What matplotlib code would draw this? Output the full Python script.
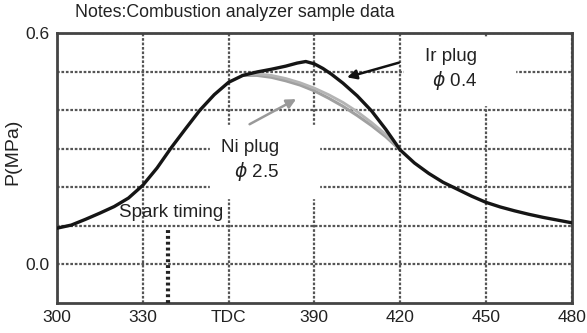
import numpy as np
import matplotlib
matplotlib.use("Agg")
import matplotlib.pyplot as plt
from matplotlib.patches import Rectangle

plt.rcParams['font.family'] = ['Liberation Sans', 'DejaVu Sans']

# Crank angle (deg) and cylinder pressure (MPa)
angle = [300, 305, 310, 315, 320, 325, 330, 335, 340, 345, 350, 355, 360,
         365, 370, 375, 380, 384, 387, 390, 393, 396, 400, 405, 410, 415,
         420, 425, 430, 435, 440, 445, 450, 455, 460, 465, 470, 475, 480]
p_ir = [0.094, 0.102, 0.117, 0.133, 0.150, 0.172, 0.205, 0.25, 0.303, 0.352,
        0.40, 0.44, 0.472, 0.49, 0.499, 0.506, 0.514, 0.522, 0.526, 0.52,
        0.508, 0.493, 0.47, 0.437, 0.398, 0.35, 0.297, 0.263, 0.236, 0.213,
        0.195, 0.177, 0.161, 0.149, 0.139, 0.13, 0.122, 0.115, 0.108]

# Ni plug only differs after ~365 deg
angle_ni = [365, 370, 375, 380, 385, 390, 395, 400, 405, 410, 415, 420]
p_ni_a = [0.49, 0.49, 0.485, 0.476, 0.465, 0.45, 0.431, 0.41, 0.386, 0.36, 0.331, 0.297]
p_ni_b = [0.49, 0.494, 0.49, 0.482, 0.471, 0.457, 0.44, 0.42, 0.396, 0.368, 0.337, 0.299]

spark = 339
xticks = [300, 330, 360, 390, 420, 450, 480]
xlabels = ['300', '330', 'TDC', '390', '420', '450', '480']
yticks = [0.0, 0.1, 0.2, 0.3, 0.4, 0.5, 0.6]
ylabels = ['0.0', '', '', '', '', '', '0.6']

fig = plt.figure(figsize=(5.87, 3.33), dpi=100)
ax = fig.add_axes([0.097, 0.09, 0.877, 0.811])

ax.set_xlim(300, 480)
ax.set_ylim(-0.1, 0.6)
ax.set_xticks(xticks)
ax.set_xticklabels(xlabels)
ax.set_yticks(yticks)
ax.set_yticklabels(ylabels)
ax.tick_params(length=0, labelsize=12.5, pad=5, colors='#222')
ax.set_axisbelow(True)
ax.grid(True, color='#555', linestyle=(0, (1.2, 0.8)), linewidth=1.6)
for s in ax.spines.values():
    s.set_linewidth(2)
    s.set_color('#444')

# white patches behind the labels (grid is broken there)
ax.add_patch(Rectangle((421.5, 0.413), 38.5, 0.175, color='white', zorder=1))
ax.add_patch(Rectangle((353.5, 0.171), 38, 0.19, color='white', zorder=1))

ax.plot(angle_ni, p_ni_a, color='#a0a0a0', lw=2.2, zorder=2, solid_joinstyle='round')
ax.plot(angle_ni, p_ni_b, color='#b4b4b4', lw=2.0, zorder=2, solid_joinstyle='round')
ax.plot(angle, p_ir, color='#151515', lw=2.4, zorder=3, solid_joinstyle='round')

ax.plot([spark, spark], [-0.1, 0.092], color='#222', lw=3,
        linestyle=(0, (0.7, 0.7)), zorder=3)

ax.text(340, 0.135, 'Spark timing', ha='center', va='center', fontsize=13.5, color='#222')
ax.text(377.8, 0.268, 'Ni plug\n$\\phi$ 2.5', ha='right', va='center',
        multialignment='right', fontsize=13.5, color='#222', linespacing=1.25)
ax.text(447, 0.504, 'Ir plug\n$\\phi$ 0.4', ha='right', va='center',
        multialignment='right', fontsize=13.5, color='#222', linespacing=1.25)

ax.annotate('', xy=(400.5, 0.483), xytext=(420.5, 0.525),
            arrowprops=dict(arrowstyle='-|>', color='#111', lw=1.8,
                            mutation_scale=14), zorder=4)
ax.annotate('', xy=(384.5, 0.432), xytext=(366.5, 0.36),
            arrowprops=dict(arrowstyle='-|>', color='#999', lw=1.8,
                            mutation_scale=14), zorder=4)

ax.set_ylabel('P(MPa)', fontsize=14, color='#222')
ax.yaxis.set_label_coords(-0.07, 0.56)
fig.text(0.128, 0.962, 'Notes:Combustion analyzer sample data', fontsize=12.8,
         color='#222', va='center')

fig.savefig('out.png', dpi=100)
